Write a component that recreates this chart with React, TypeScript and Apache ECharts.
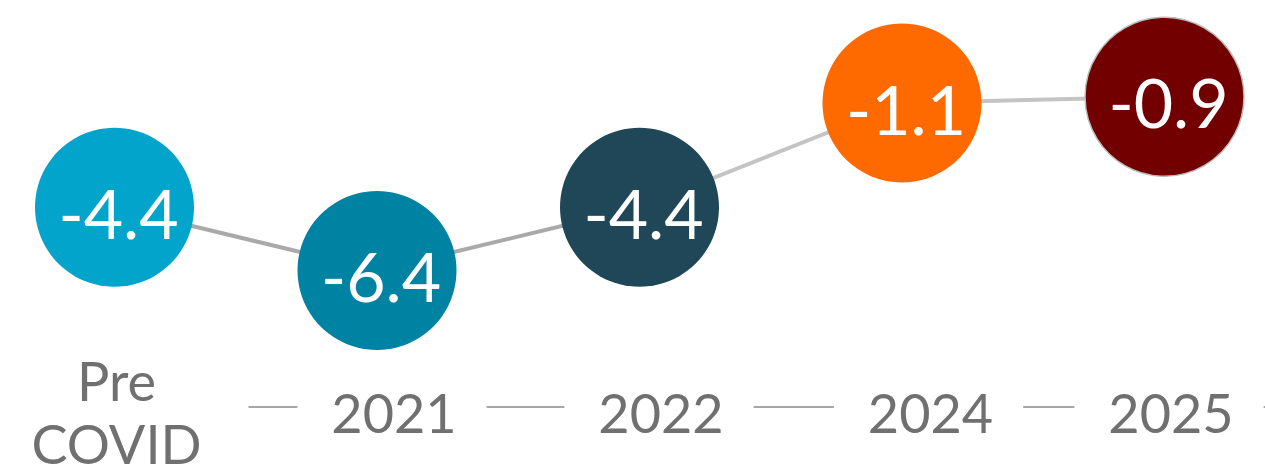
import React, { useEffect, useRef } from "react";
import * as echarts from "echarts";

const categories = ["Pre\nCOVID", "2021", "2022", "2024", "2025"];
const values = [-4.4, -6.4, -4.4, -1.1, -0.9];
const circleColors = ["#03A4CB", "#0082A3", "#1F4757", "#FF6A00", "#730000"];
// line segments: first part darker grey, later part lighter grey
const darkLineValues = [-4.4, -6.4, -4.4, null, null];
const lightLineValues = [null, null, -4.4, -1.1, -0.9];

const FONT = "Lato, 'Noto Sans', sans-serif";
const labelGaps = [19, 30, 39, 53, 9];

export default function App() {
  const ref = useRef<HTMLDivElement>(null);
  useEffect(() => {
    if (!ref.current) return;
    const chart = echarts.init(ref.current, null, { renderer: "svg" });
    const rich: any = {
      pw: {
        width: 168,
        align: "center",
        verticalAlign: "middle",
        padding: [0, 48, 0, 33],
        backgroundColor: "#fff",
        lineHeight: 63,
        height: 63,
        fontSize: 54,
        color: "#707070",
        fontFamily: FONT,
      },
      t: {
        align: "center",
        verticalAlign: "middle",
        padding: [0, 30, 0, 34],
        backgroundColor: "#fff",
        lineHeight: 63,
        height: 63,
        fontSize: 54,
        color: "#707070",
        fontFamily: FONT,
      },
    };
    labelGaps.forEach((w, i) => {
      rich["g" + i] = { width: w, align: "center", fontSize: 54, lineHeight: 63, fontFamily: FONT };
    });
    chart.setOption({
      animation: false,
      grid: {
        left: -16.75,
        width: 1312.5,
        top: 0,
        bottom: 62,
        containLabel: false,
        outerBoundsMode: "none",
      },
      xAxis: {
        type: "category",
        data: categories,
        boundaryGap: true,
        axisLine: { show: true, onZero: false, lineStyle: { color: "#8a8a8a", width: 1.5 } },
        axisTick: { show: false },
        axisLabel: {
          interval: 0,
          margin: 5,
          verticalAlign: "middle",
          fontFamily: FONT,
          fontSize: 54,
          color: "#707070",
          formatter: (value: string, index: number) => {
            const lines = value.split("\n");
            if (lines.length > 1) {
              return lines.map((l) => `{g${index}| }{pw|${l}}`).join("\n");
            }
            return `{g${index}| }{t|${value}}`;
          },
          rich,
        },
      },
      yAxis: {
        type: "value",
        min: -10.72,
        max: 2.16,
        show: false,
        splitLine: { show: false },
      },
      series: [
        {
          type: "line",
          data: darkLineValues,
          symbol: "none",
          lineStyle: { color: "#a9a9a9", width: 4 },
          z: 1,
        },
        {
          type: "line",
          data: lightLineValues,
          symbol: "none",
          lineStyle: { color: "#c4c4c4", width: 4 },
          z: 1,
        },
        {
          type: "scatter",
          symbolSize: 159,
          z: 3,
          data: values.map((v, i) => ({
            value: v,
            itemStyle: {
              color: circleColors[i],
              borderColor: i === values.length - 1 ? "#bdbdbd" : circleColors[i],
              borderWidth: i === values.length - 1 ? 1.5 : 0,
              opacity: 1,
            },
          })),
          label: {
            show: true,
            position: "inside",
            offset: [4, 5],
            color: "#ffffff",
            fontFamily: FONT,
            fontSize: 68,
            fontWeight: 400,
            formatter: (p: any) => String(p.value),
          },
        },
      ],
    });
    return () => chart.dispose();
  }, []);
  return (
    <div
      ref={ref}
      style={{ position: "fixed", left: 0, top: 0, width: 1265, height: 469, background: "#fff" }}
    />
  );
}
